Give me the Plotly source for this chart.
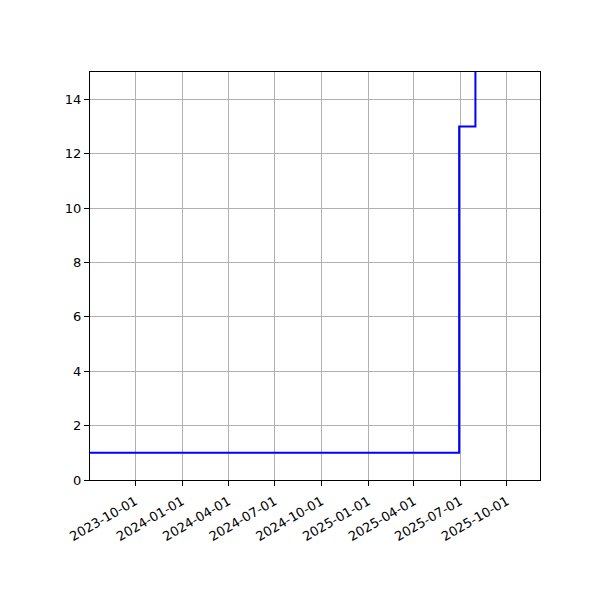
import plotly.graph_objects as go

# step series (value holds until next date)
dates = ["2023-07-01", "2025-06-29", "2025-07-31", "2025-12-31"]
values = [1, 13, 40, 40]

x_range = ["2023-07-04", "2025-12-05"]
y_range = [0, 15]
y_ticks = [0, 2, 4, 6, 8, 10, 12, 14]
x_ticks = ["2023-10-01", "2024-01-01", "2024-04-01", "2024-07-01", "2024-10-01",
           "2025-01-01", "2025-04-01", "2025-07-01", "2025-10-01"]

fig = go.Figure()
fig.add_trace(go.Scatter(
    x=dates, y=values, mode="lines",
    line=dict(color="blue", width=2, shape="hv"),
    showlegend=False,
))

axis_style = dict(
    showline=True, linecolor="black", linewidth=1, mirror=True,
    ticks="outside", ticklen=5, tickwidth=1, tickcolor="black",
    showgrid=True, gridcolor="#b0b0b0", gridwidth=1,
    zeroline=False,
    tickfont=dict(family="DejaVu Sans", size=13, color="black"),
)

fig.update_xaxes(range=x_range, tickvals=x_ticks, ticktext=x_ticks,
                 tickangle=-30, ticklabelstandoff=3, **axis_style)
fig.update_yaxes(range=y_range, tickvals=y_ticks, **axis_style)

# page body adds ~8px offset, so margins are shifted to compensate
fig.update_layout(
    width=600, height=600,
    margin=dict(l=82, r=68, t=64, b=128),
    plot_bgcolor="white", paper_bgcolor="white",
    font=dict(family="DejaVu Sans", size=13, color="black"),
)

fig.write_html("out.html")
